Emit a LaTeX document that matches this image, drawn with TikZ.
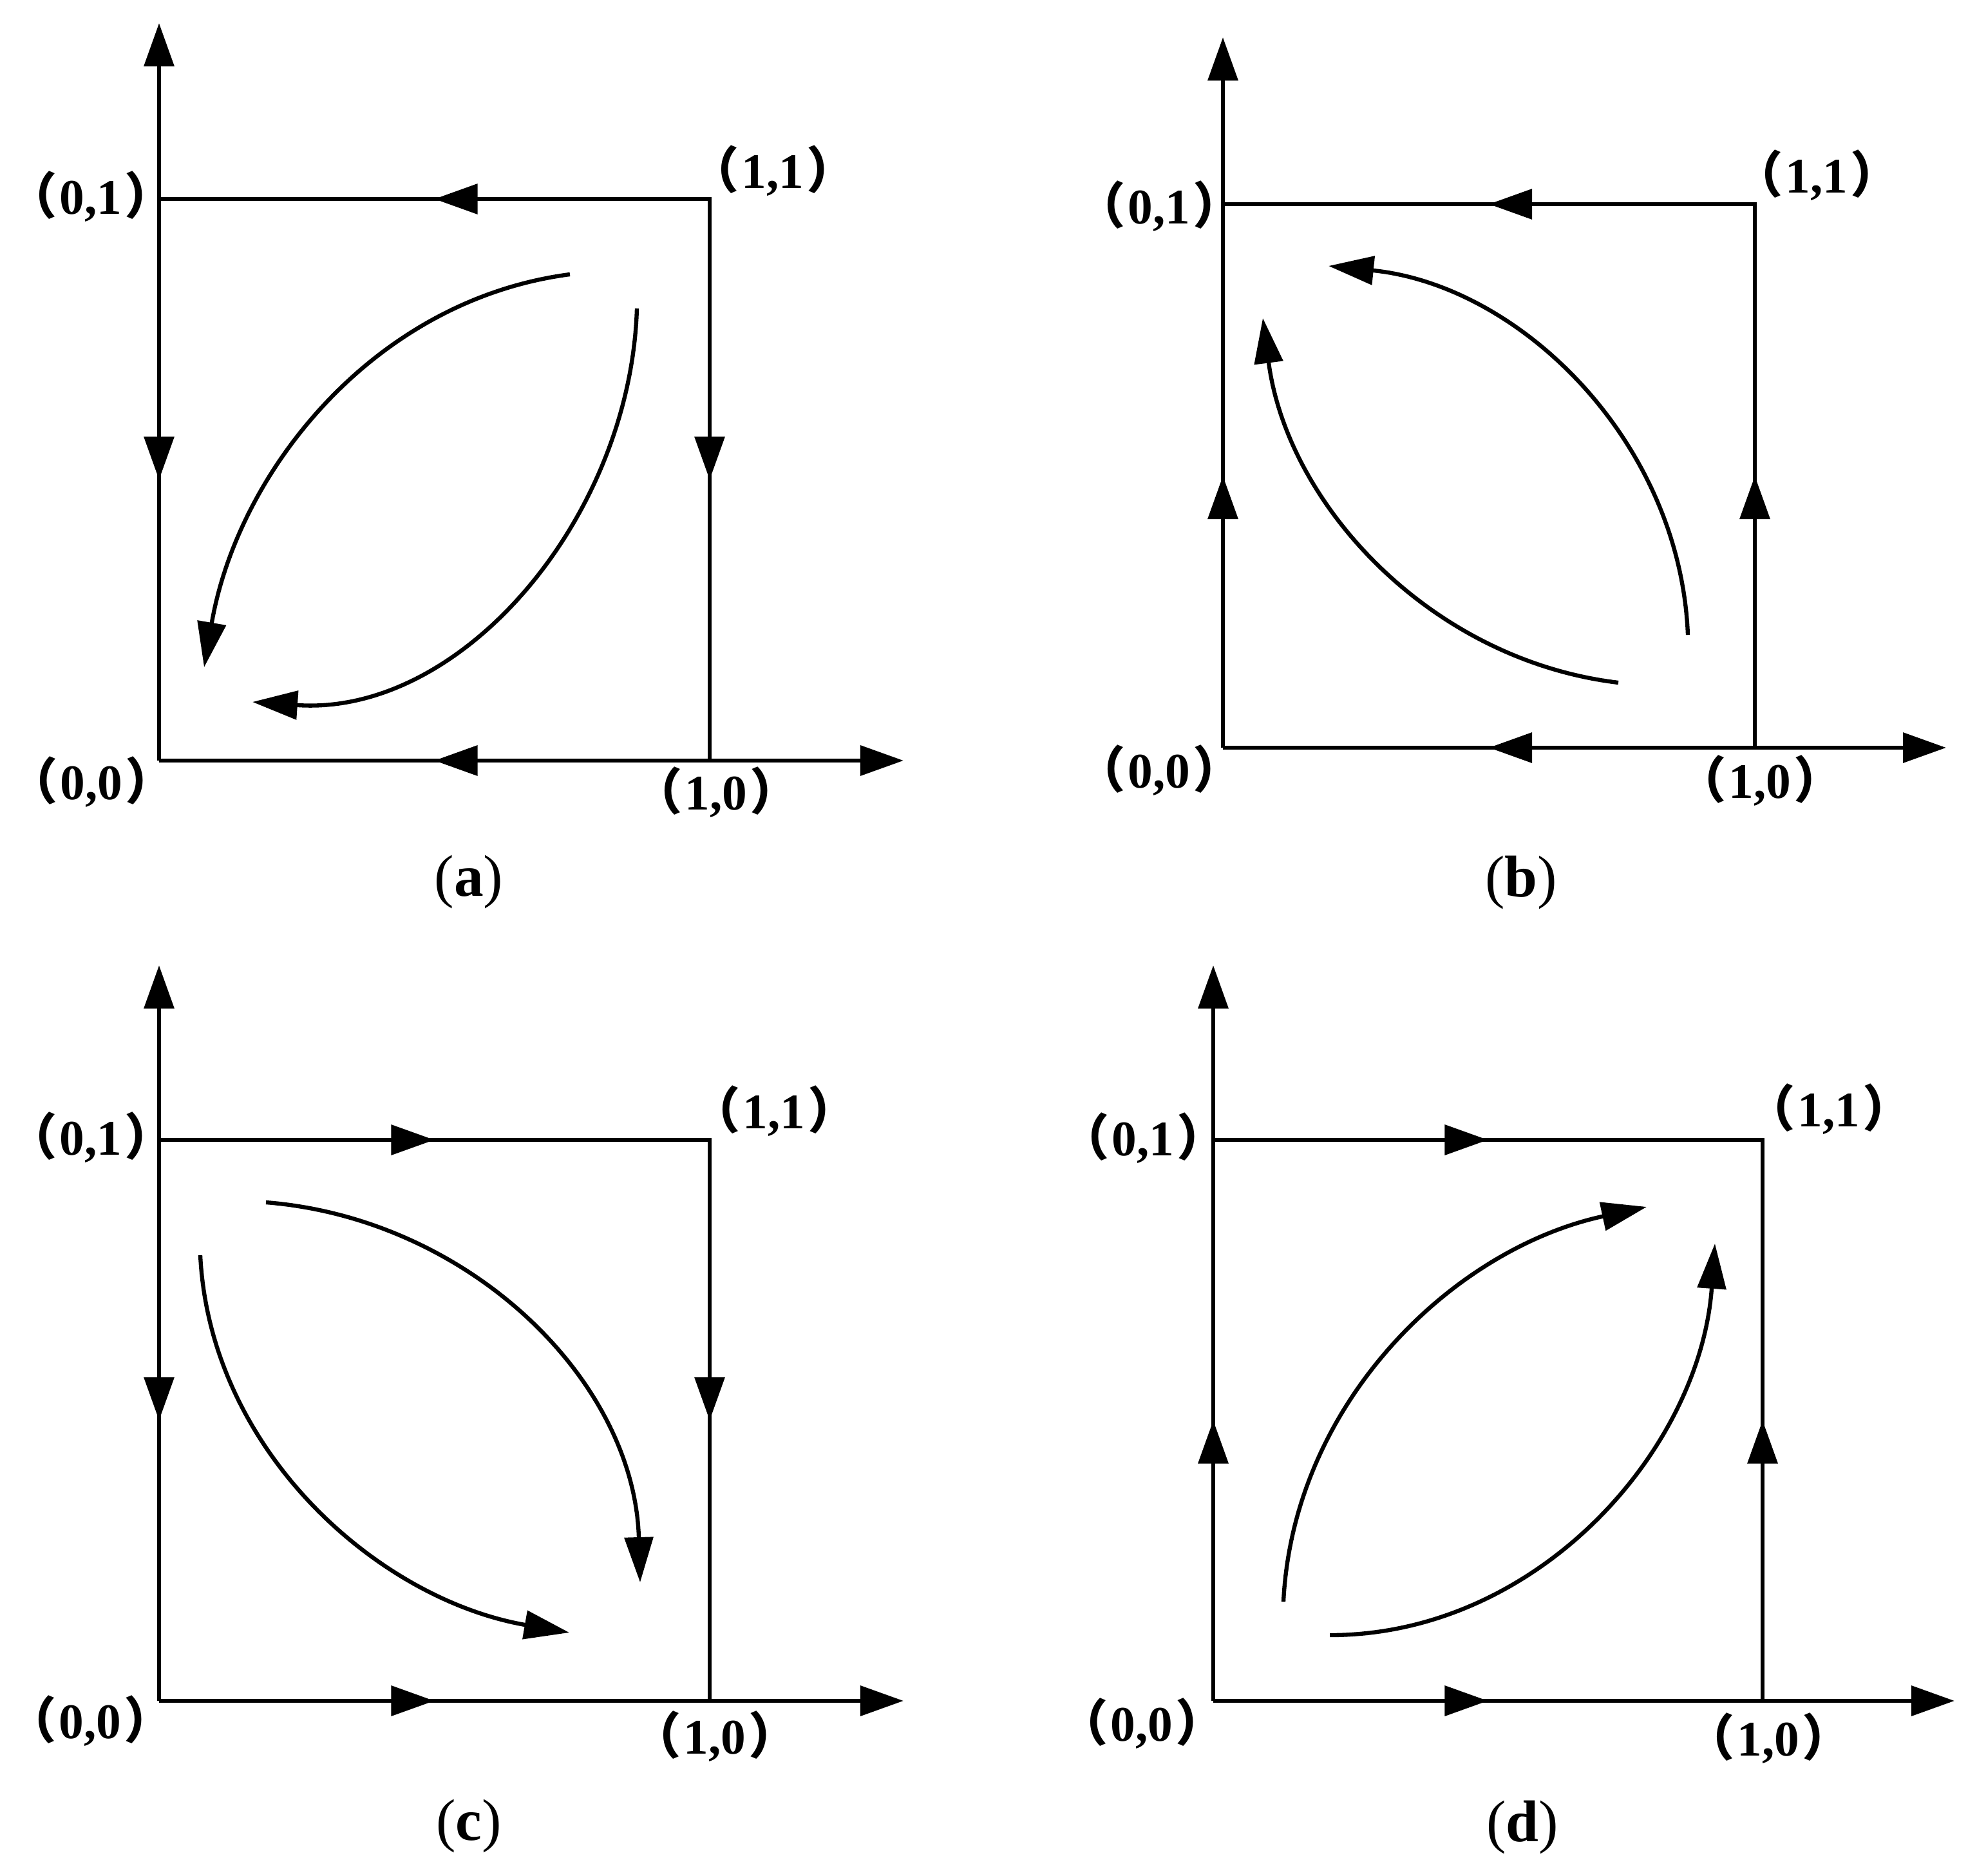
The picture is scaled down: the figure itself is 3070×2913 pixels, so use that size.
\documentclass[tikz,border=0pt]{standalone}
\usepackage{fontspec}
\setmainfont{Liberation Serif}
\newfontfamily\cjk{Noto Sans CJK SC}
\usetikzlibrary{arrows.meta,calc}
\newcommand{\lbl}[1]{{\cjk （}\kern0.05em#1\kern0.05em{\cjk ）}}
\tikzset{
  ln/.style={line width=1.85pt},
  axtip/.style={-{Triangle[length=0.67cm,width=0.46cm]}},
  crv/.style={line width=1.8pt,-{Triangle[length=0.70cm,width=0.44cm]}},
  lab/.style={font=\fontsize{22pt}{22pt}\selectfont\bfseries, inner sep=0pt},
  capt/.style={font=\fontsize{26pt}{26pt}\selectfont, inner sep=0pt},
}
\begin{document}
\begin{tikzpicture}[x=0.01cm,y=-0.01cm]
\fill[white] (0,0) rectangle (3070,2913);
\useasboundingbox (0,0) rectangle (3070,2913);

% ---------------- panel (a)
\coordinate (aO) at (247,1181);
\coordinate (aX) at (1102,1181);
\coordinate (aY) at (247,309);
\coordinate (aXY) at (1102,309);
\coordinate (aXT) at (1403,1181);
\coordinate (aYT) at (247,36);
\draw[ln,axtip] (aO) -- (aYT);
\draw[ln,axtip] (aO) -- (aXT);
\draw[ln] (aY) -- (aXY) -- (aX);
\draw[ln,axtip] (aXY) -- ($(aXY)!0.5!(aY)$);
\draw[ln,axtip] (aY) -- ($(aY)!0.5!(aO)$);
\draw[ln,axtip] (aXY) -- ($(aXY)!0.5!(aX)$);
\draw[ln,axtip] (aX) -- ($(aX)!0.5!(aO)$);
\coordinate (a1s) at (885,426);
\coordinate (a1t) at (317,1036);
\draw[crv] (a1s) .. controls (580,466) and (369,733) .. (a1t);
\coordinate (a2s) at (989,479);
\coordinate (a2t) at (392,1090);
\draw[crv] (a2s) .. controls (979,804) and (717,1113) .. (a2t);
\node[lab] (a01) at (141,305) {\lbl{0,1}};
\node[lab] (a11) at (1200,265) {\lbl{1,1}};
\node[lab] (a00) at (142,1214) {\lbl{0,0}};
\node[lab] (a10) at (1112,1230) {\lbl{1,0}};
\node[capt] (acap) at (728,1370) {(\textbf{a})};

% ---------------- panel (b)
\coordinate (bO) at (1899,1161);
\coordinate (bX) at (2725,1161);
\coordinate (bY) at (1899,317);
\coordinate (bXY) at (2725,317);
\coordinate (bXT) at (3022,1161);
\coordinate (bYT) at (1899,58);
\draw[ln,axtip] (bO) -- (bYT);
\draw[ln,axtip] (bO) -- (bXT);
\draw[ln] (bY) -- (bXY) -- (bX);
\draw[ln,axtip] (bXY) -- ($(bXY)!0.5!(bY)$);
\draw[ln,axtip] (bO) -- ($(bO)!0.5!(bY)$);
\draw[ln,axtip] (bX) -- ($(bX)!0.5!(bXY)$);
\draw[ln,axtip] (bX) -- ($(bX)!0.5!(bO)$);
\coordinate (b1s) at (2513,1060);
\coordinate (b1t) at (1961,494);
\draw[crv] (b1s) .. controls (2222,1025) and (1999,784) .. (b1t);
\coordinate (b2s) at (2621,986);
\coordinate (b2t) at (2063,413);
\draw[crv] (b2s) .. controls (2609,686) and (2361,443) .. (b2t);
\node[lab] (b01) at (1800,320) {\lbl{0,1}};
\node[lab] (b11) at (2821,272) {\lbl{1,1}};
\node[lab] (b00) at (1800,1196) {\lbl{0,0}};
\node[lab] (b10) at (2733,1212) {\lbl{1,0}};
\node[capt] (bcap) at (2362,1371) {(\textbf{b})};

% ---------------- panel (c)
\coordinate (cO) at (247,2641);
\coordinate (cX) at (1102,2641);
\coordinate (cY) at (247,1770);
\coordinate (cXY) at (1102,1770);
\coordinate (cXT) at (1403,2641);
\coordinate (cYT) at (247,1499);
\draw[ln,axtip] (cO) -- (cYT);
\draw[ln,axtip] (cO) -- (cXT);
\draw[ln] (cY) -- (cXY) -- (cX);
\draw[ln,axtip] (cY) -- ($(cY)!0.5!(cXY)$);
\draw[ln,axtip] (cY) -- ($(cY)!0.5!(cO)$);
\draw[ln,axtip] (cXY) -- ($(cXY)!0.5!(cX)$);
\draw[ln,axtip] (cO) -- ($(cO)!0.5!(cX)$);
\coordinate (c1s) at (413,1867);
\coordinate (c1t) at (994,2457);
\draw[crv] (c1s) .. controls (727,1892) and (985,2142) .. (c1t);
\coordinate (c2s) at (311,1949);
\coordinate (c2t) at (884,2535);
\draw[crv] (c2s) .. controls (326,2252) and (586,2483) .. (c2t);
\node[lab] (c01) at (141,1766) {\lbl{0,1}};
\node[lab] (c11) at (1202,1725) {\lbl{1,1}};
\node[lab] (c00) at (140,2672) {\lbl{0,0}};
\node[lab] (c10) at (1110,2696) {\lbl{1,0}};
\node[capt] (ccap) at (728,2835) {(\textbf{c})};

% ---------------- panel (d)
\coordinate (dO) at (1884,2641);
\coordinate (dX) at (2737,2641);
\coordinate (dY) at (1884,1770);
\coordinate (dXY) at (2737,1770);
\coordinate (dXT) at (3035,2641);
\coordinate (dYT) at (1884,1499);
\draw[ln,axtip] (dO) -- (dYT);
\draw[ln,axtip] (dO) -- (dXT);
\draw[ln] (dY) -- (dXY) -- (dX);
\draw[ln,axtip] (dY) -- ($(dY)!0.5!(dXY)$);
\draw[ln,axtip] (dO) -- ($(dO)!0.5!(dY)$);
\draw[ln,axtip] (dX) -- ($(dX)!0.5!(dXY)$);
\draw[ln,axtip] (dO) -- ($(dO)!0.5!(dX)$);
\coordinate (d1s) at (1993,2487);
\coordinate (d1t) at (2557,1874);
\draw[crv] (d1s) .. controls (2008,2179) and (2256,1939) .. (d1t);
\coordinate (d2s) at (2065,2539);
\coordinate (d2t) at (2663,1931);
\draw[crv] (d2s) .. controls (2387,2539) and (2640,2252) .. (d2t);
\node[lab] (d01) at (1775,1767) {\lbl{0,1}};
\node[lab] (d11) at (2840,1722) {\lbl{1,1}};
\node[lab] (d00) at (1773,2676) {\lbl{0,0}};
\node[lab] (d10) at (2746,2699) {\lbl{1,0}};
\node[capt] (dcap) at (2364,2837) {(\textbf{d})};
\end{tikzpicture}
\end{document}
